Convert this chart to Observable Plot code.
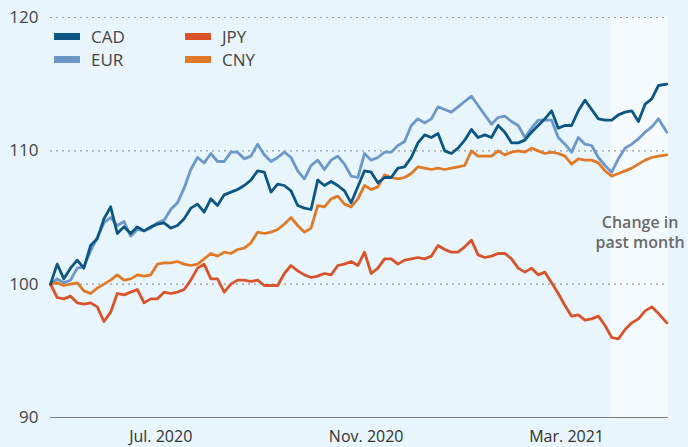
<!DOCTYPE html>
<html><head><meta charset="utf-8">
<script src="https://cdn.jsdelivr.net/npm/d3@7"></script>
<script src="https://cdn.jsdelivr.net/npm/@observablehq/plot@0.6"></script>
<style>
html,body{margin:0;padding:0;background:#e8f5fc;}
#wrap{position:relative;width:688px;height:447px;font-family:"Open Sans",sans-serif;overflow:hidden;}
#legend{position:absolute;left:54px;top:27px;display:grid;grid-template-rows:18px 18px;grid-auto-flow:column;grid-auto-columns:131px;row-gap:5px;}
.item{display:flex;align-items:center;height:18px;font-size:17px;color:#444;}
.sw{width:26px;height:7px;margin-right:11px;}
</style></head>
<body><div id="wrap"><div id="legend"></div></div>
<script>
const dates = [
"2020-04-26","2020-04-30","2020-05-04","2020-05-08","2020-05-12","2020-05-16","2020-05-20","2020-05-24","2020-05-28","2020-06-01",
"2020-06-05","2020-06-09","2020-06-13","2020-06-17","2020-06-21","2020-06-25","2020-06-29","2020-07-03","2020-07-07","2020-07-11",
"2020-07-15","2020-07-19","2020-07-23","2020-07-27","2020-07-31","2020-08-04","2020-08-08","2020-08-12","2020-08-16","2020-08-20",
"2020-08-24","2020-08-28","2020-09-01","2020-09-05","2020-09-09","2020-09-13","2020-09-17","2020-09-21","2020-09-25","2020-09-29",
"2020-10-03","2020-10-07","2020-10-11","2020-10-15","2020-10-19","2020-10-23","2020-10-27","2020-10-31","2020-11-04","2020-11-08",
"2020-11-12","2020-11-16","2020-11-20","2020-11-24","2020-11-28","2020-12-02","2020-12-06","2020-12-10","2020-12-14","2020-12-18",
"2020-12-22","2020-12-26","2020-12-30","2021-01-03","2021-01-07","2021-01-11","2021-01-15","2021-01-19","2021-01-23","2021-01-27",
"2021-01-31","2021-02-04","2021-02-08","2021-02-12","2021-02-16","2021-02-20","2021-02-24","2021-02-28","2021-03-04","2021-03-08",
"2021-03-12","2021-03-16","2021-03-20","2021-03-24","2021-03-28","2021-04-01","2021-04-05","2021-04-09","2021-04-13","2021-04-17",
"2021-04-21","2021-04-25","2021-04-30"];

const CAD = [
100.0,101.5,100.4,101.2,101.8,101.2,102.9,103.4,104.9,105.8,
103.8,104.3,103.8,104.3,104.0,104.3,104.5,104.6,104.2,104.4,
104.9,105.7,106.0,105.4,106.4,105.9,106.7,106.9,107.1,107.4,
107.8,108.5,108.4,106.9,107.5,107.4,107.0,105.9,105.7,105.6,
107.8,107.4,107.7,107.4,107.0,106.1,107.3,108.5,108.4,107.6,
108.0,108.0,108.7,108.8,109.5,110.6,111.2,111.0,111.3,110.0,
109.8,110.2,110.8,111.6,111.0,111.2,111.0,111.9,111.4,110.6,
110.6,110.8,111.4,111.9,112.4,113.0,111.7,111.9,111.9,113.0,
113.8,113.1,112.4,112.3,112.3,112.7,112.9,113.0,112.2,113.5,
113.9,114.9,115.0];

const EUR = [
100.0,100.4,100.1,100.3,101.2,101.3,102.5,103.5,104.6,105.0,
104.4,104.7,103.6,104.1,104.0,104.2,104.6,104.8,105.6,106.1,
107.2,108.6,109.5,109.1,109.8,109.2,109.2,109.9,109.9,109.4,
109.6,110.5,109.7,109.2,109.5,109.9,109.5,108.5,107.9,108.9,
109.3,108.6,109.3,109.6,109.0,108.1,108.0,109.8,109.3,109.5,
109.9,109.9,110.4,110.7,111.9,112.4,112.1,112.4,113.3,113.1,
112.9,113.3,113.7,114.1,113.4,112.7,112.0,112.5,112.6,112.2,
111.9,111.0,111.7,112.3,112.3,112.3,111.0,110.5,109.9,111.0,
110.5,110.4,109.5,108.9,108.4,109.4,110.2,110.5,110.9,111.4,
111.8,112.4,111.4];

const JPY = [
100.0,99.0,98.9,99.1,98.6,98.5,98.6,98.3,97.2,97.9,
99.3,99.2,99.4,99.6,98.6,98.9,98.9,99.4,99.3,99.4,
99.6,100.3,101.2,101.5,100.4,100.4,99.4,100.0,100.3,100.3,
100.2,100.3,99.9,99.9,99.9,100.8,101.4,101.0,100.7,100.5,
100.6,100.8,100.7,101.4,101.5,101.7,101.4,102.4,100.8,101.2,
101.9,101.9,101.5,101.8,101.9,102.0,101.9,102.1,102.9,102.6,
102.4,102.4,102.8,103.3,102.2,102.0,102.1,102.3,102.3,101.9,
101.2,100.9,101.2,100.7,100.9,100.1,99.3,98.4,97.6,97.7,
97.3,97.4,97.6,96.9,96.0,95.9,96.6,97.1,97.4,98.0,
98.3,97.8,97.1];

const CNY = [
100.0,100.1,99.9,100.0,100.1,99.5,99.3,99.7,100.0,100.3,
100.7,100.3,100.4,100.7,100.6,100.7,101.5,101.6,101.6,101.7,
101.5,101.4,101.5,101.9,102.3,102.1,102.4,102.3,102.6,102.7,
103.1,103.9,103.8,103.9,104.1,104.5,105.0,104.4,103.9,104.2,
105.9,105.8,106.4,106.6,106.0,105.8,106.4,107.4,107.1,107.3,
108.2,108.0,107.9,108.0,108.3,108.8,108.7,108.6,108.7,108.6,
108.7,108.8,108.9,110.0,109.6,109.6,109.6,110.0,109.7,109.9,
110.0,109.9,110.2,110.0,109.8,109.9,109.8,109.6,109.0,109.4,
109.3,109.3,109.1,108.5,108.1,108.3,108.5,108.7,109.0,109.3,
109.5,109.6,109.7];

const seriesNames = ["CAD", "EUR", "JPY", "CNY"];
const seriesColors = ["#0c5683", "#6d97c9", "#d8532a", "#e07a26"];
const drawOrder = ["EUR", "CNY", "JPY", "CAD"];
const tickDates = ["2020-07-01", "2020-11-01", "2021-03-01"];
const tickLabels = ["Jul. 2020", "Nov. 2020", "Mar. 2021"];
const yTicks = [90, 100, 110, 120];
const xDomain = ["2020-04-26", "2021-05-01"];
const shadeRange = ["2021-03-28", "2021-05-01"];
const annotation = ["Change in", "past month"];

const valuesBy = {CAD, EUR, JPY, CNY};
const rows = drawOrder.flatMap(s => valuesBy[s].map((v, i) => ({series: s, date: new Date(dates[i]), value: v})));
const tickD = tickDates.map(d => new Date(d));
const shade = [{x1: new Date(shadeRange[0]), x2: new Date(shadeRange[1])}];
const mid = new Date((+shade[0].x1 + +shade[0].x2) / 2);

const chart = Plot.plot({
  width: 688, height: 447,
  marginLeft: 50, marginRight: 20, marginTop: 17, marginBottom: 30,
  style: {background: "transparent", fontFamily: "'Open Sans', sans-serif", fontSize: "17px", color: "#444", overflow: "visible"},
  x: {type: "utc", domain: xDomain.map(d => new Date(d)), ticks: tickD,
      tickFormat: d => tickLabels[tickD.findIndex(t => +t === +d)], tickSize: 0, tickPadding: 13, label: null},
  y: {domain: [90, 120], ticks: yTicks, tickSize: 0, tickPadding: 12, label: null},
  color: {domain: seriesNames, range: seriesColors},
  marks: [
    Plot.rect(shade, {x1: "x1", x2: "x2", y1: () => 90, y2: () => 120, fill: "#f5fafe"}),
    Plot.ruleY(yTicks.filter(t => t > 90), {stroke: "#9a9a9a", strokeDasharray: "2,4", strokeWidth: 1.2}),
    Plot.ruleY([90], {stroke: "#7d7d7d", strokeWidth: 1.2}),
    Plot.line(rows, {x: "date", y: "value", z: "series", stroke: "series", strokeWidth: 2.8, strokeLinejoin: "round"}),
    Plot.text([{x: mid, y: 103.95, t: annotation.join("\n")}], {x: "x", y: "y", text: "t", fill: "#6a6a6a", fontWeight: 600, fontSize: 16, lineHeight: 1.25, textAnchor: "middle"})
  ]
});
chart.querySelectorAll('[aria-label="x-axis tick label"] text, g[aria-label="x-axis"] text').forEach(t => { t.setAttribute("font-size", "16"); t.style.fill = "#333"; });
const wrap = document.getElementById("wrap");
wrap.insertBefore(chart, wrap.firstChild);

const legend = document.getElementById("legend");
seriesNames.forEach((s, i) => {
  const it = document.createElement("div");
  it.className = "item";
  it.innerHTML = `<span class="sw" style="background:${seriesColors[i]}"></span><span>${s}</span>`;
  legend.appendChild(it);
});
</script></body></html>
